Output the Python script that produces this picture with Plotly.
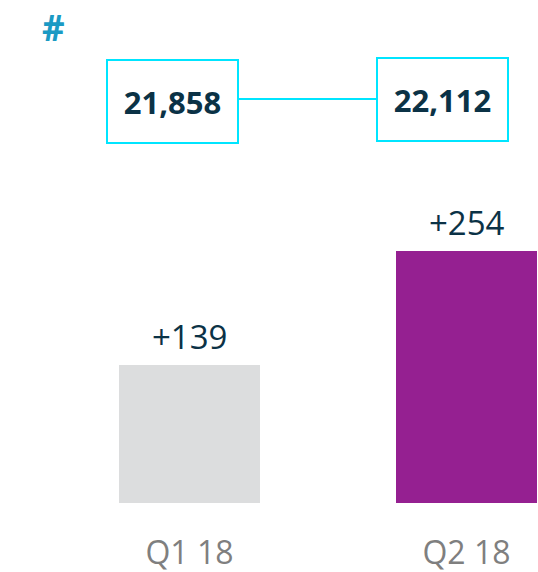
import plotly.graph_objects as go

quarters = ["Q1 18", "Q2 18"]
changes = [139, 254]
change_labels = ["+139", "+254"]
totals = ["21,858", "22,112"]
bar_colors = ["#DCDDDE", "#952091"]

W, H = 538, 572
BOTTOM = 69
plot_h = H - BOTTOM

fig = go.Figure()

fig.add_trace(go.Bar(
    x=[0, 1],
    y=changes,
    width=0.509,
    marker=dict(color=bar_colors, line=dict(width=0)),
    hoverinfo="skip",
))

# change labels above the bars
for i, (v, lab) in enumerate(zip(changes, change_labels)):
    fig.add_annotation(x=i, y=v, text=lab, showarrow=False,
                       xanchor="center", yanchor="bottom", yshift=4,
                       font=dict(family="Open Sans", size=33, color="#0B3246"))

# total boxes
box_x = [172.5, 442]
box_y = [101, 99.5]
for bx, by, t in zip(box_x, box_y, totals):
    fig.add_annotation(x=bx / W, y=(plot_h - by) / plot_h, xref="paper", yref="paper",
                       text="<b>%s</b>" % t, showarrow=False,
                       xanchor="center", yanchor="middle",
                       width=129, height=81, borderwidth=2, borderpad=0,
                       bordercolor="#00E5FF",
                       font=dict(family="Open Sans", size=31, color="#0B3246"))

# connector between the boxes
fig.add_shape(type="line", xref="paper", yref="paper",
              x0=238 / W, x1=376 / W,
              y0=(plot_h - 99) / plot_h, y1=(plot_h - 99) / plot_h,
              line=dict(color="#00E5FF", width=2))

fig.add_annotation(x=53 / W, y=(plot_h - 27) / plot_h, xref="paper", yref="paper",
                   text="<b>#</b>", showarrow=False, xanchor="center", yanchor="middle",
                   font=dict(family="Open Sans", size=35, color="#1B9AC4"))

fig.update_layout(
    width=W, height=H,
    margin=dict(l=0, r=0, t=0, b=BOTTOM),
    plot_bgcolor="white", paper_bgcolor="white",
    showlegend=False,
    xaxis=dict(range=[-189.5 / 277, (W - 189.5) / 277], tickvals=[0, 1], ticktext=quarters,
               showgrid=False, zeroline=False, showline=False, ticks="",
               ticklabelstandoff=28,
               tickfont=dict(family="Open Sans", size=32, color="#7F7F7F")),
    yaxis=dict(range=[0, plot_h / 0.992], visible=False),
)

fig.write_html("out.html", config={"displayModeBar": False},
               post_script="document.body.style.margin='0';")
